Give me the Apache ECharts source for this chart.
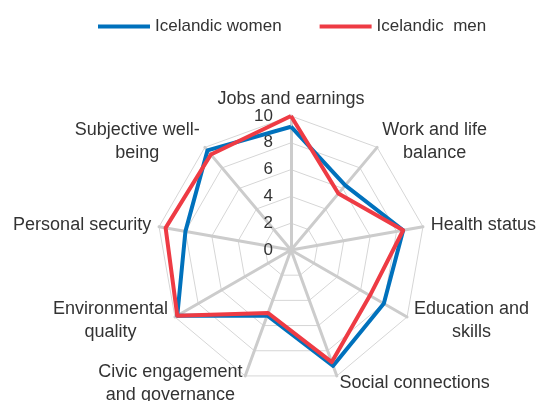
<!DOCTYPE html>
<html>
<head>
<meta charset="utf-8">
<script src="https://cdn.jsdelivr.net/npm/echarts@6/dist/echarts.min.js"></script>
<style>
  html, body { margin: 0; padding: 0; background: #fff; }
  #chart { width: 541px; height: 401px; }
</style>
</head>
<body>
<div id="chart"></div>
<script>
// indicators listed counter-clockwise from the top, as echarts lays them out
var categories = [
  "Jobs and earnings",
  "Subjective well-\nbeing",
  "Personal security",
  "Environmental\nquality",
  "Civic engagement\nand governance",
  "Social connections",
  "Education and\nskills",
  "Health status",
  "Work and life\nbalance"
];
var women = [9.2, 9.7, 8.0, 9.8, 5.2, 9.2, 8.0, 8.5, 6.3];
var men = [10.0, 9.3, 9.5, 9.8, 5.0, 8.9, 6.8, 8.5, 5.5];
var seriesNames = ["Icelandic women", "Icelandic  men"];
var maxValue = 10;

var font = "Liberation Sans";

var myChart = echarts.init(document.getElementById("chart"));

var indicator = categories.map(function (c, i) {
  var ind = { name: c, min: 0, max: maxValue };
  if (i === 0) {
    ind.axisLabel = {
      show: true,
      color: "#333333",
      fontSize: 17,
      fontFamily: font,
      margin: 18
    };
  }
  return ind;
});

var option = {
  animation: false,
  legend: {
    top: 13,
    left: 93,
    itemWidth: 52,
    itemHeight: 4,
    itemGap: 38,
    icon: "rect",
    textStyle: { fontSize: 17, color: "#333333", fontFamily: font },
    data: seriesNames
  },
  radar: {
    center: [291, 250],
    radius: 134,
    startAngle: 90,
    shape: "polygon",
    splitNumber: 5,
    axisName: {
      color: "#333333",
      fontSize: 18,
      fontFamily: font,
      lineHeight: 23,
      formatter: function (v) {
        // the top label sits a little closer to its axis end
        var style = v === categories[0] ? "j" : "a";
        return v.split("\n").map(function (s) { return "{" + style + "|" + s + "}"; }).join("\n");
      },
      rich: {
        a: { align: "center", fontSize: 18, lineHeight: 23, color: "#333333", fontFamily: font },
        j: { align: "center", fontSize: 18, lineHeight: 9, color: "#333333", fontFamily: font }
      }
    },
    nameGap: 8,
    indicator: indicator,
    axisLine: { lineStyle: { color: "#cccccc", width: 3 } },
    splitLine: { lineStyle: { color: "#d6d6d6", width: 1 } },
    splitArea: { show: false },
    axisTick: { show: false },
    axisLabel: { show: false }
  },
  series: [
    {
      type: "radar",
      symbol: "none",
      data: [
        {
          name: seriesNames[0],
          value: women,
          lineStyle: { color: "#0071bc", width: 4 },
          itemStyle: { color: "#0071bc" }
        },
        {
          name: seriesNames[1],
          value: men,
          lineStyle: { color: "#ee3b44", width: 4 },
          itemStyle: { color: "#ee3b44" }
        }
      ]
    }
  ]
};
myChart.setOption(option);
</script>
</body>
</html>
